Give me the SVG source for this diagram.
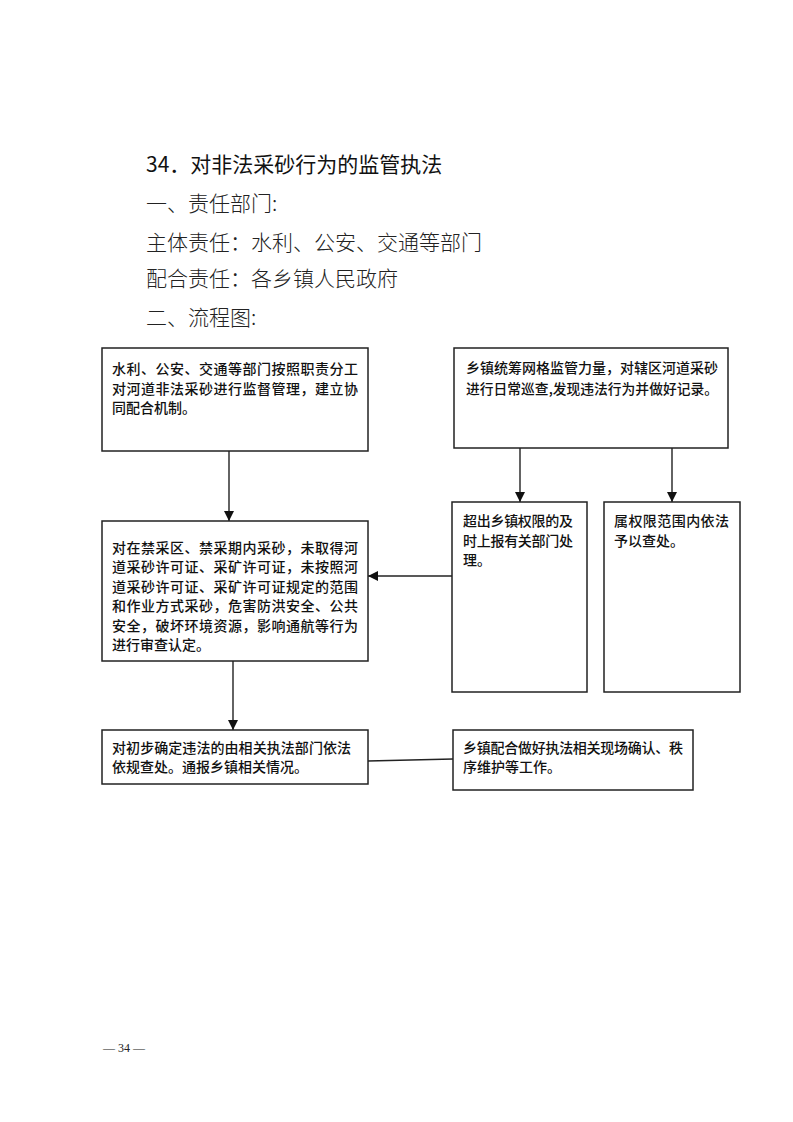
<svg xmlns="http://www.w3.org/2000/svg" width="793" height="1122" viewBox="0 0 793 1122">
<style>
.hd{font-family:"Noto Sans CJK SC","Liberation Serif",sans-serif;font-size:21px;fill:#222;font-weight:300}
.tt{font-family:"Noto Sans CJK SC","Liberation Sans",sans-serif;font-size:21px;fill:#111;font-weight:400}
.bx{fill:#fff;stroke:#222;stroke-width:1.5}
.t{font-family:"Noto Sans CJK SC","Liberation Serif",sans-serif;font-size:14px;fill:#111;font-weight:500}
.ln{stroke:#222;stroke-width:1.4;fill:none}
.pg{font-family:"Liberation Serif",serif;font-size:12px;fill:#222}
</style>
<defs>
<marker id="ah" markerUnits="userSpaceOnUse" markerWidth="10" markerHeight="12" refX="10" refY="5" orient="auto">
<path d="M0,0 L10,5 L0,10 Z" fill="#111"/>
</marker>
</defs>
<rect width="793" height="1122" fill="#fff"/>
<g id="header">
<text class="tt" x="146" y="172">34．对非法采砂行为的监管执法</text>
<text class="hd" x="146" y="211">一、责任部门:</text>
<text class="hd" x="146" y="250">主体责任：水利、公安、交通等部门</text>
<text class="hd" x="146" y="286">配合责任：各乡镇人民政府</text>
<text class="hd" x="146" y="325">二、流程图:</text>
</g>
<g id="connectors">
<line class="ln" x1="229" y1="451" x2="229" y2="521" marker-end="url(#ah)"/>
<line class="ln" x1="520" y1="448" x2="520" y2="502" marker-end="url(#ah)"/>
<line class="ln" x1="672" y1="448" x2="672" y2="502" marker-end="url(#ah)"/>
<line class="ln" x1="452" y1="576" x2="368" y2="576" marker-end="url(#ah)"/>
<line class="ln" x1="233" y1="661" x2="233" y2="730" marker-end="url(#ah)"/>
<line class="ln" x1="368" y1="761" x2="453" y2="759"/>
</g>
<g id="n1">
<rect class="bx" x="102" y="348" width="266" height="103"/>
<text class="t" x="112" y="374" textLength="246" lengthAdjust="spacing">水利、公安、交通等部门按照职责分工</text>
<text class="t" x="112" y="394" textLength="246" lengthAdjust="spacing">对河道非法采砂进行监督管理，建立协</text>
<text class="t" x="112" y="413">同配合机制。</text>
</g>
<g id="n2">
<rect class="bx" x="454" y="348" width="274" height="100"/>
<text class="t" x="466" y="373" textLength="252" lengthAdjust="spacing">乡镇统筹网格监管力量，对辖区河道采砂</text>
<text class="t" x="466" y="394" textLength="252" lengthAdjust="spacingAndGlyphs">进行日常巡查,发现违法行为并做好记录。</text>
</g>
<g id="n3">
<rect class="bx" x="102" y="521" width="266" height="140"/>
<text class="t" x="112" y="553" textLength="246" lengthAdjust="spacing">对在禁采区、禁采期内采砂，未取得河</text>
<text class="t" x="112" y="572" textLength="246" lengthAdjust="spacing">道采砂许可证、采矿许可证，未按照河</text>
<text class="t" x="112" y="592" textLength="246" lengthAdjust="spacing">道采砂许可证、采矿许可证规定的范围</text>
<text class="t" x="112" y="611" textLength="246" lengthAdjust="spacing">和作业方式采砂，危害防洪安全、公共</text>
<text class="t" x="112" y="631" textLength="246" lengthAdjust="spacing">安全，破坏环境资源，影响通航等行为</text>
<text class="t" x="112" y="650">进行审查认定。</text>
</g>
<g id="n4">
<rect class="bx" x="452" y="502" width="135" height="190"/>
<text class="t" x="463" y="526" textLength="110" lengthAdjust="spacing">超出乡镇权限的及</text>
<text class="t" x="463" y="546" textLength="110" lengthAdjust="spacing">时上报有关部门处</text>
<text class="t" x="463" y="565">理。</text>
</g>
<g id="n5">
<rect class="bx" x="604" y="502" width="136" height="190"/>
<text class="t" x="614" y="526" textLength="115" lengthAdjust="spacing">属权限范围内依法</text>
<text class="t" x="614" y="546">予以查处。</text>
</g>
<g id="n6">
<rect class="bx" x="102" y="730" width="266" height="54"/>
<text class="t" x="112" y="753" textLength="239" lengthAdjust="spacing">对初步确定违法的由相关执法部门依法</text>
<text class="t" x="112" y="772">依规查处。通报乡镇相关情况。</text>
</g>
<g id="n7">
<rect class="bx" x="453" y="730" width="240" height="60"/>
<text class="t" x="463" y="753" textLength="220" lengthAdjust="spacing">乡镇配合做好执法相关现场确认、秩</text>
<text class="t" x="463" y="772">序维护等工作。</text>
</g>
<text class="pg" x="103" y="1052">— 34 —</text>
</svg>
